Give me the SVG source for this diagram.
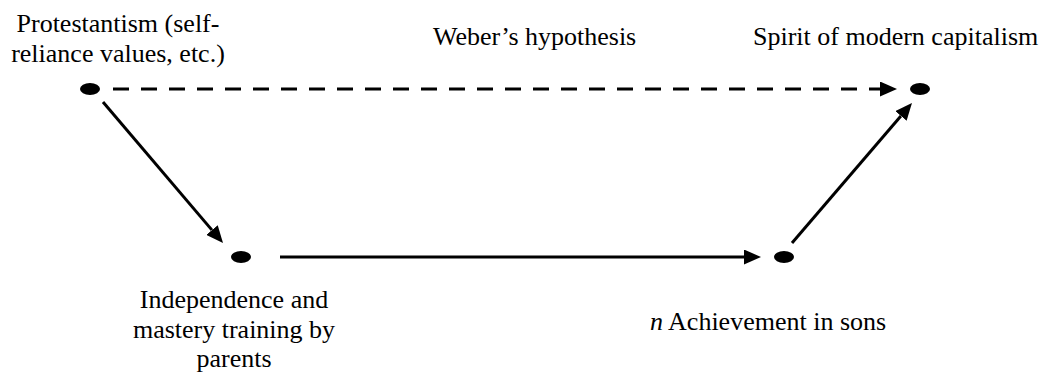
<svg xmlns="http://www.w3.org/2000/svg" width="1051" height="381" viewBox="0 0 1051 381">
<style>
  text { font-family: "Liberation Serif", "Times New Roman", serif; font-size: 26px; fill: #000; }
  .dot { fill: #000; }
  .edge { stroke: #000; stroke-width: 3; fill: none; }
  .dash { stroke-dasharray: 16 12; }
</style>
<defs>
  <marker id="arrow" markerUnits="userSpaceOnUse" markerWidth="17" markerHeight="15" viewBox="0 0 17 15" refX="0" refY="7.5" orient="auto">
    <path d="M0,0 L17,7.5 L0,15 z" fill="#000"/>
  </marker>
</defs>
<rect width="1051" height="381" fill="#fff"/>
<g id="connectors">
  <line class="edge dash" x1="113" y1="89" x2="880" y2="89" marker-end="url(#arrow)"/>
  <line class="edge" x1="103" y1="102" x2="212" y2="230.1" marker-end="url(#arrow)"/>
  <line class="edge" x1="280" y1="257" x2="744" y2="257" marker-end="url(#arrow)"/>
  <line class="edge" x1="792" y1="243" x2="900.9" y2="115.9" marker-end="url(#arrow)"/>
</g>
<g id="protestantism">
  <ellipse class="dot" cx="90" cy="89" rx="10" ry="6"/>
  <text x="118" y="32" text-anchor="middle">Protestantism (self-</text>
  <text x="118" y="62" text-anchor="middle">reliance values, etc.)</text>
</g>
<g id="weber">
  <text x="433" y="45">Weber’s hypothesis</text>
</g>
<g id="capitalism">
  <ellipse class="dot" cx="920" cy="89" rx="10" ry="6"/>
  <text x="753" y="45">Spirit of modern capitalism</text>
</g>
<g id="training">
  <ellipse class="dot" cx="241" cy="257" rx="10" ry="6"/>
  <text x="234" y="308" text-anchor="middle">Independence and</text>
  <text x="234" y="338" text-anchor="middle">mastery training by</text>
  <text x="234" y="367" text-anchor="middle">parents</text>
</g>
<g id="achievement">
  <ellipse class="dot" cx="784" cy="257" rx="10" ry="6"/>
  <text x="650" y="330"><tspan font-style="italic">n</tspan> Achievement in sons</text>
</g>
</svg>
